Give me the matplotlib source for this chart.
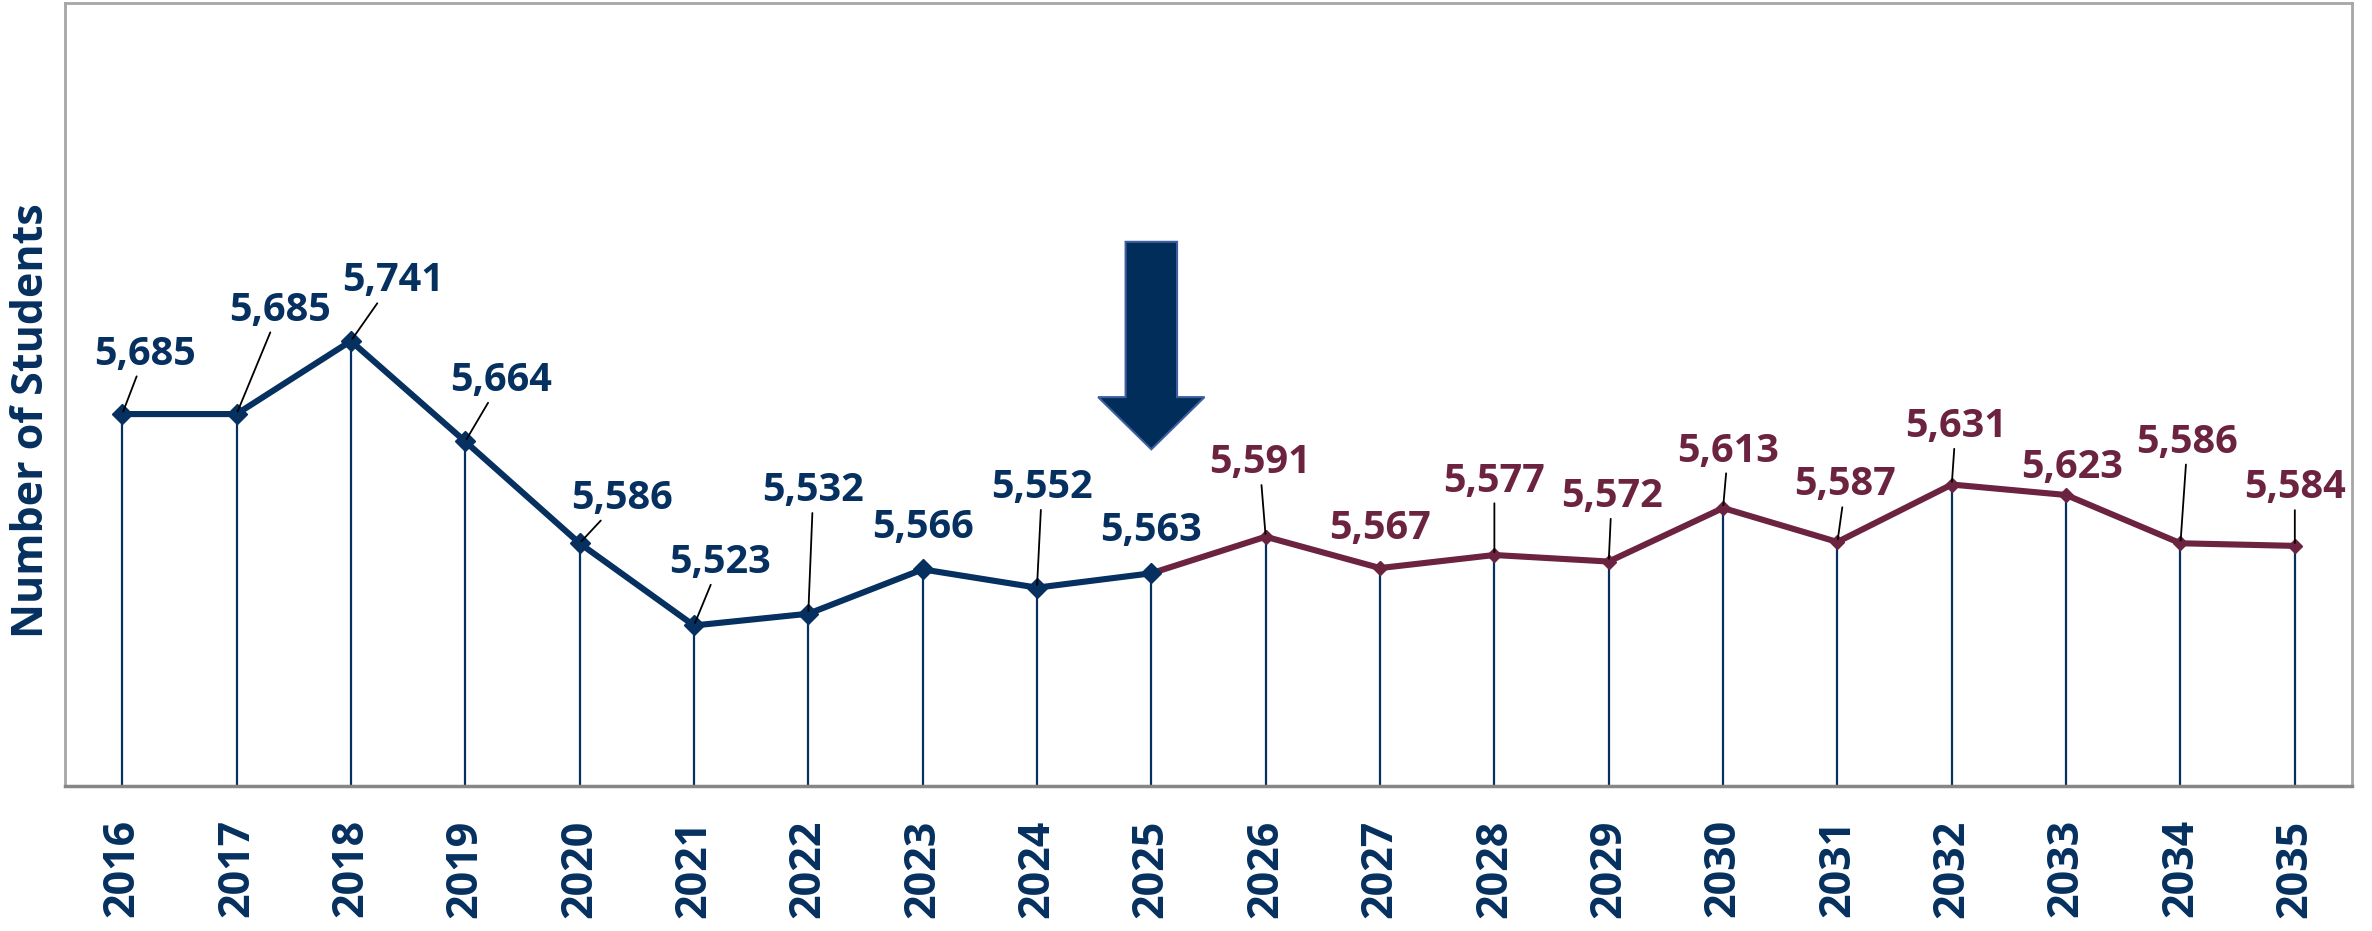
import matplotlib
matplotlib.use("Agg")
import matplotlib.pyplot as plt
from matplotlib.patches import FancyArrow

# ===== DATA =====
years = ["2016", "2017", "2018", "2019", "2020", "2021", "2022", "2023", "2024", "2025",
         "2026", "2027", "2028", "2029", "2030", "2031", "2032", "2033", "2034", "2035"]
students = [5685, 5685, 5741, 5664, 5586, 5523, 5532, 5566, 5552, 5563,
            5591, 5567, 5577, 5572, 5613, 5587, 5631, 5623, 5586, 5584]
split_year = "2025"   # actual data up to here, projection after

# label offsets in pixels (dx, dy) and whether a leader line is drawn
label_offsets = [(23, 60), (43, 104), (42, 60), (36, 61), (42, 45), (26, 63), (5, 123),
                 (0, 42), (5, 100), (0, 43), (-6, 74), (0, 40), (0, 74), (3, 65),
                 (5, 57), (8, 57), (4, 58), (6, 27), (7, 101), (0, 58)]
leaders = [True, True, True, True, True, True, True, False, True, False,
           True, False, True, True, True, True, True, False, True, True]

NAVY = "#05305F"
MAROON = "#6B2340"

# ===== FIGURE =====
fig = plt.figure(figsize=(23.72, 9.31), dpi=100)
ax = fig.add_axes([65 / 2372, 145 / 931, 2287 / 2372, 783 / 931])

x = list(range(len(years)))
split = years.index(split_year)
y_floor = 5400

ax.vlines(x, y_floor, students, color=NAVY, lw=1.6, zorder=1)
ax.plot(x[:split + 1], students[:split + 1], color=NAVY, lw=4.4,
        marker="D", ms=10, zorder=4)
ax.plot(x[split:], students[split:], color=MAROON, lw=4.4,
        marker="D", ms=7, zorder=3)

# ===== LABELS =====
for i, v in enumerate(students):
    col = NAVY if i <= split else MAROON
    arrow = dict(arrowstyle="-", color="black", lw=1.3, shrinkA=0, shrinkB=2) if leaders[i] else None
    ax.annotate(f"{v:,}", xy=(i, v), xytext=label_offsets[i], textcoords="offset pixels",
                ha="center", va="center", fontsize=28.5, fontweight="bold",
                family="Open Sans", color=col, arrowprops=arrow, zorder=5)

# arrow pointing at the split year
ax.add_patch(FancyArrow(split, 5817, 0, -159, width=0.45, head_width=0.93,
                        head_length=40, length_includes_head=True,
                        facecolor="#002D5A", edgecolor="#3F5F9F", lw=1.5, zorder=6))

# ===== AXES =====
ax.set_xlim(-0.5, len(years) - 0.5)
ax.set_ylim(y_floor, 6000)
ax.set_xticks(x)
ax.set_xticklabels(years, rotation=90, fontsize=31, fontweight="bold",
                   family="Open Sans", color=NAVY)
ax.tick_params(axis="x", length=0, pad=24)
ax.set_yticks([])
for s in ["left", "right", "top"]:
    ax.spines[s].set_color("#A6A6A6")
    ax.spines[s].set_linewidth(2)
ax.spines["bottom"].set_color("#868686")
ax.spines["bottom"].set_linewidth(2.5)

fig.text(32 / 2372, 1 - 421 / 931, "Number of Students", rotation=90,
         ha="center", va="center", fontsize=31, fontweight="bold",
         family="Open Sans", color=NAVY)

fig.savefig("out.png", dpi=100)
